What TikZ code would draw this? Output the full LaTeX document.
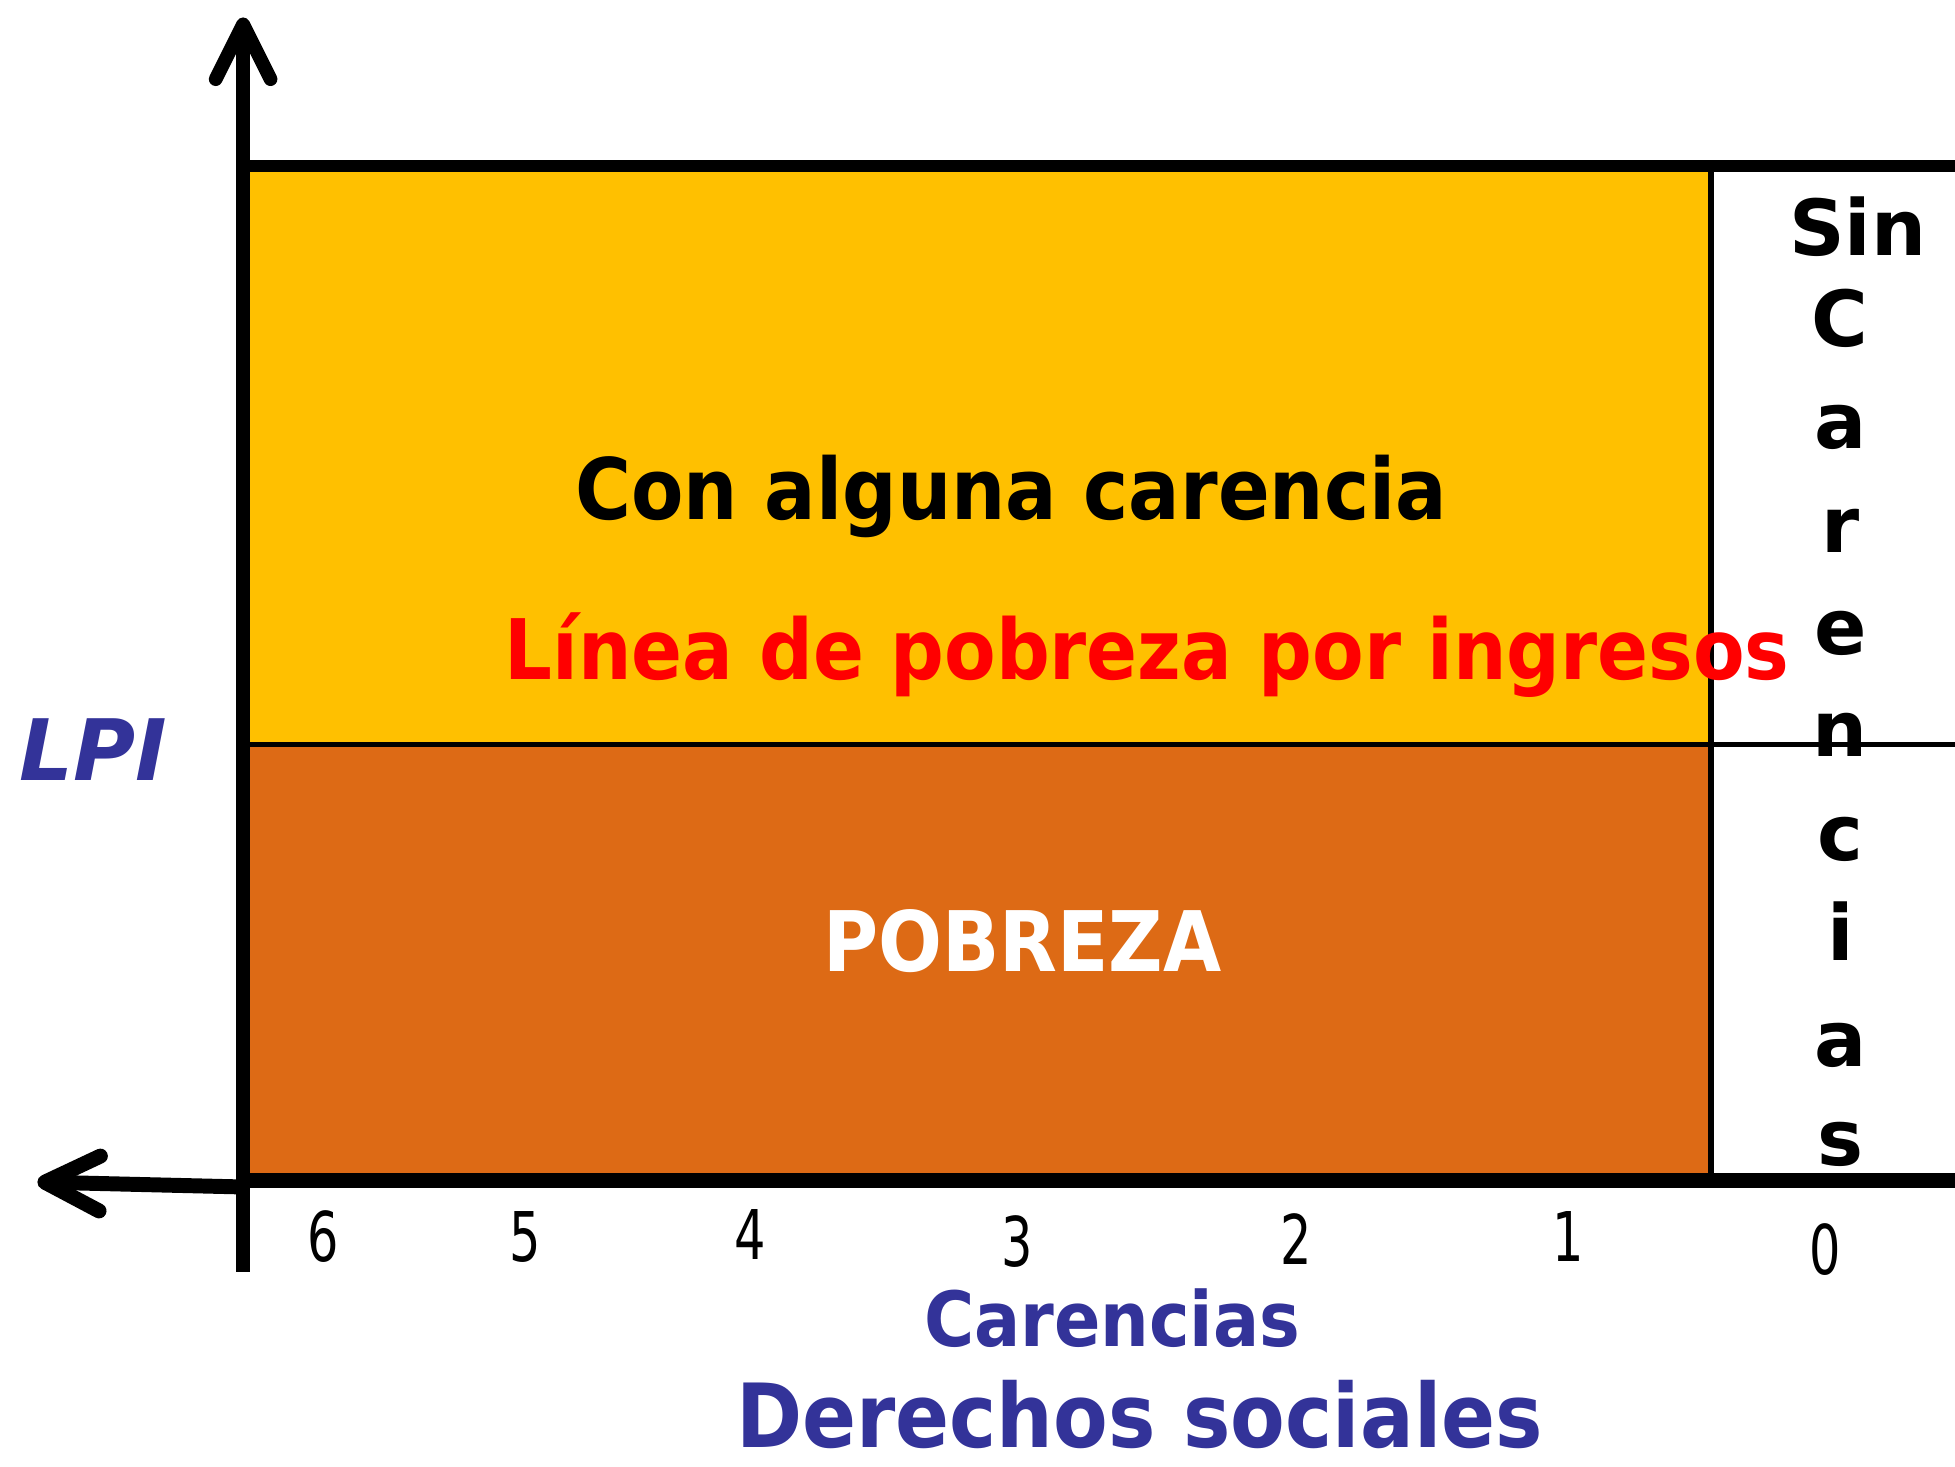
\documentclass[tikz,border=0pt]{standalone}
\usepackage{fontspec}
\setmainfont{DejaVu Sans}
\newfontfamily\digitfont[FakeStretch=0.72]{DejaVu Sans}
\newfontfamily\heavyfont[FakeStretch=0.9]{DejaVu Sans}
\usetikzlibrary{arrows.meta}
\definecolor{amarillo}{HTML}{FFC000}
\definecolor{naranja}{HTML}{DD6A15}
\definecolor{azul}{HTML}{333399}

\begin{document}
\begin{tikzpicture}[x=1pt,y=-1pt,
		big/.style={font=\fontsize{#1}{#1}\selectfont\heavyfont\bfseries,anchor=base,inner sep=0pt},
		letra/.style={font=\fontsize{62}{62}\selectfont\bfseries,anchor=base,inner sep=0pt},
		num/.style={font=\fontsize{55}{55}\selectfont\digitfont,anchor=base,inner sep=0pt},
		barb/.style={-{Straight Barb[length=44pt,width=44pt,line cap=round,line join=round]}}]
		\useasboundingbox (0,0) rectangle (1568,1176);
		
		% zonas
		\fill[amarillo] (200,138) rectangle (1370,597);
		\fill[naranja] (200,597) rectangle (1370,943);
		\draw[line width=5pt] (1372,138) -- (1372,943);
		\draw[line width=4pt] (200,597) -- (1568,597);
		\draw[line width=10pt] (190,133) -- (1568,133);
		\draw[line width=12pt] (190,947) -- (1568,947);
		
		% ejes
		\coordinate (o) at (195,1020);
		\coordinate (ytop) at (195,14);
		\coordinate (xstart) at (195,952);
		\coordinate (xleft) at (30,948);
		\draw[line width=11pt,barb] (o) -- (ytop);
		\draw[line width=12pt,barb] (xstart) -- (xleft);
		
		\node[big=68] (con) at (811,417) {Con alguna carencia};
		\node[big=67,red] (lpiline) at (920,545) {Línea de pobreza por ingresos};
		\node[big=67,white] (pobreza) at (820,779) {POBREZA};
		\node[font=\fontsize{68}{68}\selectfont\bfseries\itshape,azul,anchor=base,inner sep=0pt] 
		(lpi) at (75,626) {LPI};
		\node[big=61,azul] (carencias) at (892,1080) {Carencias};
		\node[big=71,azul,text depth=0pt] (derechos) at (914,1161) {Derechos sociales};
		
		\node[letra] (sin) at (1490,205) {Sin};
		\foreach \l/\y [count=\i] in {C/278,a/360,r/443,e/525,n/607,c/690,i/770,a/855,s/935}
		\node[letra] (sc\i) at (1476,\y) {\l};
		
		\foreach \n/\x/\y in {6/259/1012,5/421/1012,4/602/1010,3/816/1016,2/1040/1014,1/1258/1012,0/1464/1022}
		\node[num] (n\n) at (\x,\y) {\n};
	\end{tikzpicture}
\end{document}
